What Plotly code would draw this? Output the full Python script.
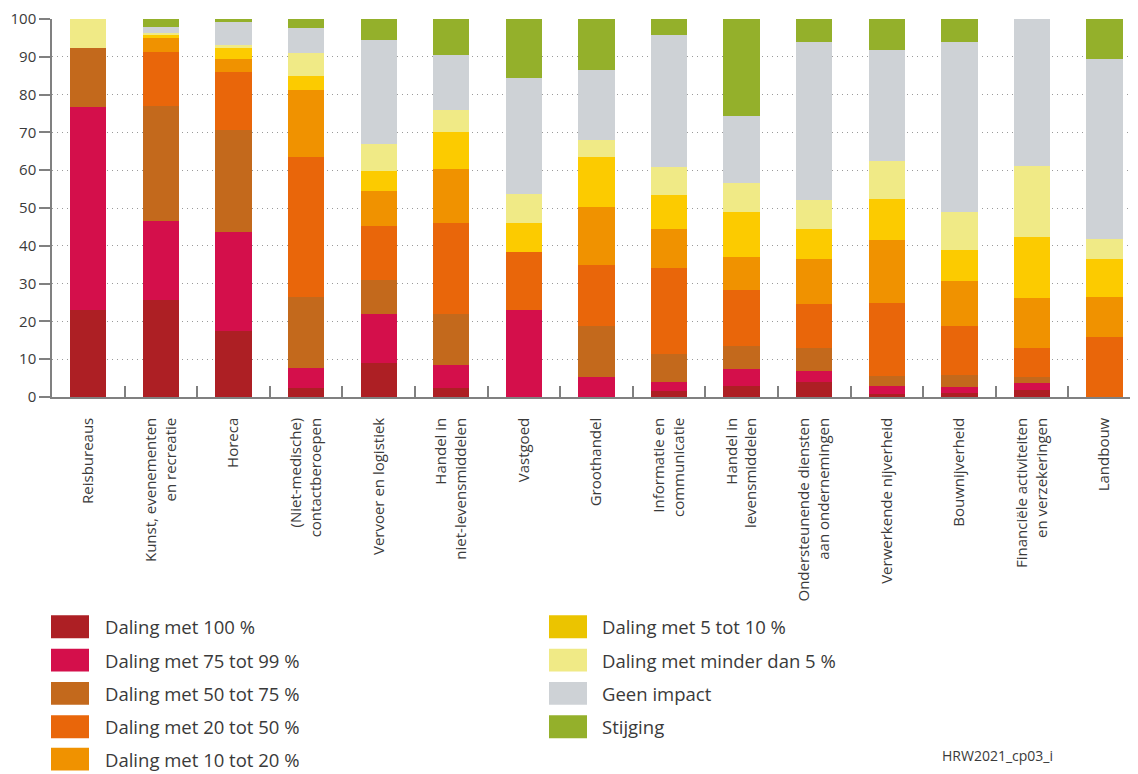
import plotly.graph_objects as go

categories = ["Reisbureaus", "Kunst, evenementen en recreatie", "Horeca",
              "(Niet-medische) contactberoepen", "Vervoer en logistiek",
              "Handel in niet-levensmiddelen", "Vastgoed", "Groothandel",
              "Informatie en communicatie", "Handel in levensmiddelen",
              "Ondersteunende diensten aan ondernemingen", "Verwerkende nijverheid",
              "Bouwnijverheid", "Financiële activiteiten en verzekeringen", "Landbouw"]

tick_labels = ["Reisbureaus", "Kunst, evenementen<br>en recreatie", "Horeca",
               "(Niet-medische)<br>contactberoepen", "Vervoer en logistiek",
               "Handel in<br>niet-levensmiddelen", "Vastgoed", "Groothandel",
               "Informatie en<br>communicatie", "Handel in<br>levensmiddelen",
               "Ondersteunende diensten<br>aan ondernemingen", "Verwerkende nijverheid",
               "Bouwnijverheid", "Financiële activiteiten<br>en verzekeringen", "Landbouw"]

series_names = ["Daling met 100 %", "Daling met 75 tot 99 %", "Daling met 50 tot 75 %",
                "Daling met 20 tot 50 %", "Daling met 10 tot 20 %", "Daling met 5 tot 10 %",
                "Daling met minder dan 5 %", "Geen impact", "Stijging"]

daling_100 = [23.1, 25.7, 17.4, 2.4, 9.1, 2.5, 0, 0, 1.6, 2.9, 4.0, 0.9, 1.1, 1.8, 0]
daling_75_99 = [53.6, 20.8, 26.2, 5.2, 12.8, 6.0, 23.1, 5.4, 2.4, 4.6, 3.0, 2.0, 1.5, 1.9, 0]
daling_50_75 = [15.5, 30.5, 27.1, 18.8, 9.1, 13.5, 0, 13.3, 7.3, 5.9, 6.0, 2.7, 3.2, 1.7, 0]
daling_20_50 = [0, 14.3, 15.2, 37.1, 14.3, 24.1, 15.2, 16.3, 22.9, 15.0, 11.7, 19.4, 13.1, 7.5, 15.8]
daling_10_20 = [0, 3.8, 3.6, 17.6, 9.1, 14.3, 0, 15.3, 10.3, 8.7, 11.9, 16.6, 11.9, 13.2, 10.6]
daling_5_10 = [0, 0.9, 2.7, 3.7, 5.4, 9.8, 7.7, 13.2, 9.0, 11.9, 7.9, 10.9, 8.2, 16.3, 10.2]
daling_lt5 = [7.8, 0.2, 0.8, 6.3, 7.2, 5.6, 7.7, 4.4, 7.3, 7.5, 7.7, 10.0, 9.9, 18.6, 5.3]
geen_impact = [0, 1.7, 6.2, 6.4, 27.4, 14.7, 30.7, 18.7, 35.0, 17.9, 41.6, 29.2, 44.9, 39.0, 47.5]
stijging = [0, 2.0, 0.8, 2.5, 5.6, 9.5, 15.6, 13.4, 4.2, 25.6, 6.2, 8.3, 6.2, 0, 10.6]

series_values = [daling_100, daling_75_99, daling_50_75, daling_20_50, daling_10_20,
                 daling_5_10, daling_lt5, geen_impact, stijging]

colors = ["#AD1F24", "#D40F4B", "#C3691C", "#E9660A", "#F09200",
          "#FCCB00", "#F0EA86", "#CED2D6", "#94B02B"]
legend_colors = ["#AD1F24", "#D40F4B", "#C3691C", "#E9660A", "#F09200",
                 "#EBC400", "#F0EA86", "#CED2D6", "#94B02B"]

# page body has an 8px margin: the figure is drawn from (8, 8)
OFF = 8
W, H = 1138 - OFF, 774 - OFF
ML, MR = 52 - OFF, 0
MT = 17 - OFF
MB = H - (397 - OFF)
FONT = "Open Sans, Noto Sans, sans-serif"
TXT = "#3a3a3a"

fig = go.Figure()
for name, vals, col in zip(series_names, series_values, colors):
    fig.add_trace(go.Bar(x=categories, y=vals, name=name, marker_color=col,
                         marker_line_width=0, showlegend=False))

pw = W - ML - MR
ph = H - MT - MB


def px_x(x):
    return (x - OFF - ML) / pw


def px_y(y):
    return (H - MB - (y - OFF)) / ph


shapes = []
annotations = []
col_x = [(51, 89, 103), (549, 587, 600)]
row_y = [628, 661.5, 695, 728.5, 761]
for i, (name, col) in enumerate(zip(series_names, legend_colors)):
    c = 0 if i < 5 else 1
    r = i if i < 5 else i - 5
    x0, x1, tx = col_x[c]
    yc = row_y[r]
    shapes.append(dict(type="rect", xref="paper", yref="paper",
                       x0=px_x(x0), x1=px_x(x1), y0=px_y(yc + 11.5), y1=px_y(yc - 11.5),
                       fillcolor=col, line=dict(width=0)))
    annotations.append(dict(xref="paper", yref="paper", x=px_x(tx), y=px_y(yc),
                            text=name, showarrow=False, xanchor="left", yanchor="middle",
                            font=dict(family=FONT, size=18.5, color=TXT)))

annotations.append(dict(xref="paper", yref="paper", x=px_x(1055), y=px_y(757),
                        text="HRW2021_cp03_i", showarrow=False, xanchor="right",
                        yanchor="middle", font=dict(family=FONT, size=14, color=TXT)))

fig.update_layout(
    width=W, height=H,
    margin=dict(l=ML, r=MR, t=MT, b=MB),
    barmode="stack", bargap=0.5,
    plot_bgcolor="white", paper_bgcolor="white",
    font=dict(family=FONT, color=TXT),
    shapes=shapes, annotations=annotations,
    xaxis=dict(range=[-0.5, 14.46], tickmode="array", tickvals=categories,
               ticktext=tick_labels, tickangle=-90, tickson="boundaries",
               ticks="inside", ticklen=11, tickcolor="#808080", tickwidth=1.5,
               showline=True, linecolor="#808080", linewidth=1.5, showgrid=False,
               tickfont=dict(family=FONT, size=15, color=TXT), ticklabelstandoff=13),
    yaxis=dict(range=[0, 100], dtick=10, ticks="outside", ticklen=11,
               tickcolor="#808080", tickwidth=1.5, showline=True, linecolor="#808080",
               linewidth=1.5, showgrid=True, gridcolor="#9a9a9a", griddash="1px,4px",
               gridwidth=1.2, zeroline=False, ticklabeloverflow="allow",
               tickfont=dict(family=FONT, size=15, color=TXT)),
)

fig.write_html("out.html")
